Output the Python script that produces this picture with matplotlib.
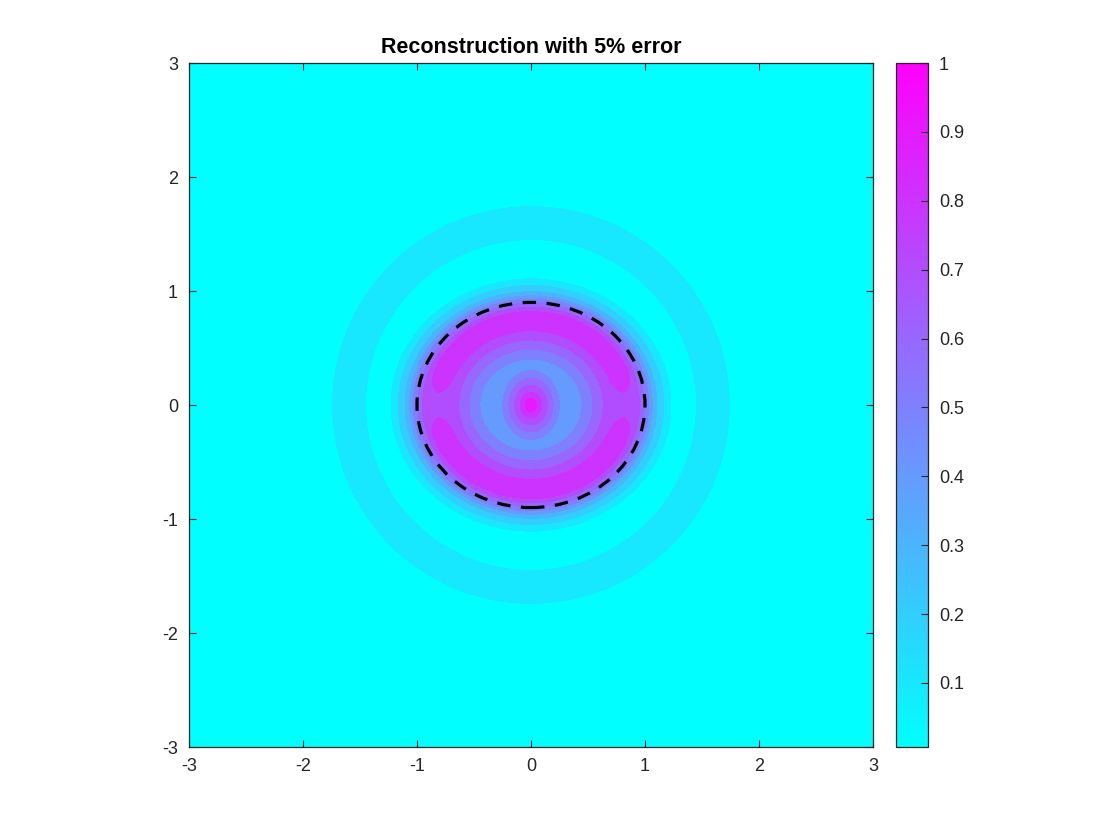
import numpy as np
import matplotlib
matplotlib.use("Agg")
import matplotlib.pyplot as plt
from matplotlib.patches import Ellipse
from matplotlib.colors import Normalize

plt.rcParams['font.family'] = ['Liberation Sans', 'DejaVu Sans']
plt.rcParams['axes.unicode_minus'] = False

# inner disk profile, against elliptical radius rho = sqrt(x^2 + (y/0.9)^2)
rho_pts = [0.0, 0.20, 0.34, 0.46, 0.55, 0.64, 0.73, 0.82, 0.91, 0.95,
           0.99, 1.03, 1.06, 1.10, 1.16, 1.23, 1.32, 1.42, 4.3]
disk_vals = [0.42, 0.42, 0.43, 0.50, 0.60, 0.70, 0.80, 0.86, 0.80, 0.70,
             0.60, 0.50, 0.40, 0.30, 0.20, 0.09, 0.03, 0.0, 0.0]
# dip of the ring near the horizontal axis
notch_vals = [0.0, 0.0, 0.0, 0.0, 0.0, 0.0, 0.02, 0.08, 0.02, 0.0,
              0.0, 0.0, 0.0, 0.0, 0.0, 0.0, 0.0, 0.0, 0.0]

# central spike, against s = sqrt(x^2 + (y/1.2)^2)
spike_pts = [0.0, 0.05, 0.09, 0.14, 0.19, 0.24, 0.30, 4.3]
spike_vals = [0.56, 0.47, 0.38, 0.28, 0.18, 0.08, 0.0, 0.0]

# outer circular ring, against r
ring_pts = [0.0, 1.30, 1.45, 1.60, 1.74, 1.90, 2.20, 4.3]
ring_vals = [0.0, 0.0, 0.093, 0.15, 0.093, 0.03, 0.005, 0.0]
background = 0.007

levels = [0.007, 0.1, 0.2, 0.3, 0.4, 0.5, 0.6, 0.7, 0.8, 0.9, 1.0]
cbar_ticks = [0.1, 0.2, 0.3, 0.4, 0.5, 0.6, 0.7, 0.8, 0.9, 1.0]
cbar_labels = ['0.1', '0.2', '0.3', '0.4', '0.5', '0.6', '0.7', '0.8', '0.9', '1']
axis_ticks = [-3, -2, -1, 0, 1, 2, 3]

# true inclusion boundary (dashed)
ell_center = (0.0, 0.0)
ell_width = 2.0
ell_height = 1.8

x = np.linspace(-3, 3, 601)
X, Y = np.meshgrid(x, x)
R = np.hypot(X, Y)
RHO = np.hypot(X, Y / 0.9)
TH = np.arctan2(Y / 0.9, X)
S = np.hypot(X, Y / 1.2)
Z = (background
     + np.interp(RHO, rho_pts, disk_vals)
     - np.interp(RHO, rho_pts, notch_vals) * np.cos(TH) ** 16
     + np.interp(S, spike_pts, spike_vals)
     + np.interp(R, ring_pts, ring_vals))

cmap = plt.get_cmap('cool')
norm = Normalize(vmin=levels[0], vmax=levels[-1])
band_colors = [cmap(norm(lv)) for lv in levels[:-1]]

fig = plt.figure(figsize=(11.2, 8.4), dpi=100)
ax = fig.add_axes([189 / 1120, 93 / 840, 684 / 1120, 684 / 840])
ax.contourf(X, Y, Z, levels=levels, colors=band_colors, antialiased=False)
ax.add_patch(Ellipse(ell_center, ell_width, ell_height, fill=False,
                     edgecolor='black', linewidth=2.3,
                     linestyle=(0, (4.2, 3.3))))

ax.set_xlim(-3, 3)
ax.set_ylim(-3, 3)
ax.set_xticks(axis_ticks)
ax.set_yticks(axis_ticks)
ax.tick_params(direction='in', top=True, right=True, length=5,
               width=0.8, colors='#262626', labelsize=13, pad=8)
for sp in ax.spines.values():
    sp.set_color('#262626')
    sp.set_linewidth(0.9)
ax.set_title('Reconstruction with 5% error', fontsize=15.5,
             fontweight='bold', color='black', pad=7)

cax = fig.add_axes([896 / 1120, 93 / 840, 32 / 1120, 684 / 840])
sm = plt.cm.ScalarMappable(norm=norm, cmap=cmap)
cb = fig.colorbar(sm, cax=cax, ticks=cbar_ticks)
cb.ax.set_yticklabels(cbar_labels)
cb.ax.tick_params(direction='in', length=5, width=0.8, colors='#262626',
                  labelsize=13, pad=8)
cb.outline.set_edgecolor('#262626')
cb.outline.set_linewidth(0.9)

fig.savefig('out.png', dpi=100)
